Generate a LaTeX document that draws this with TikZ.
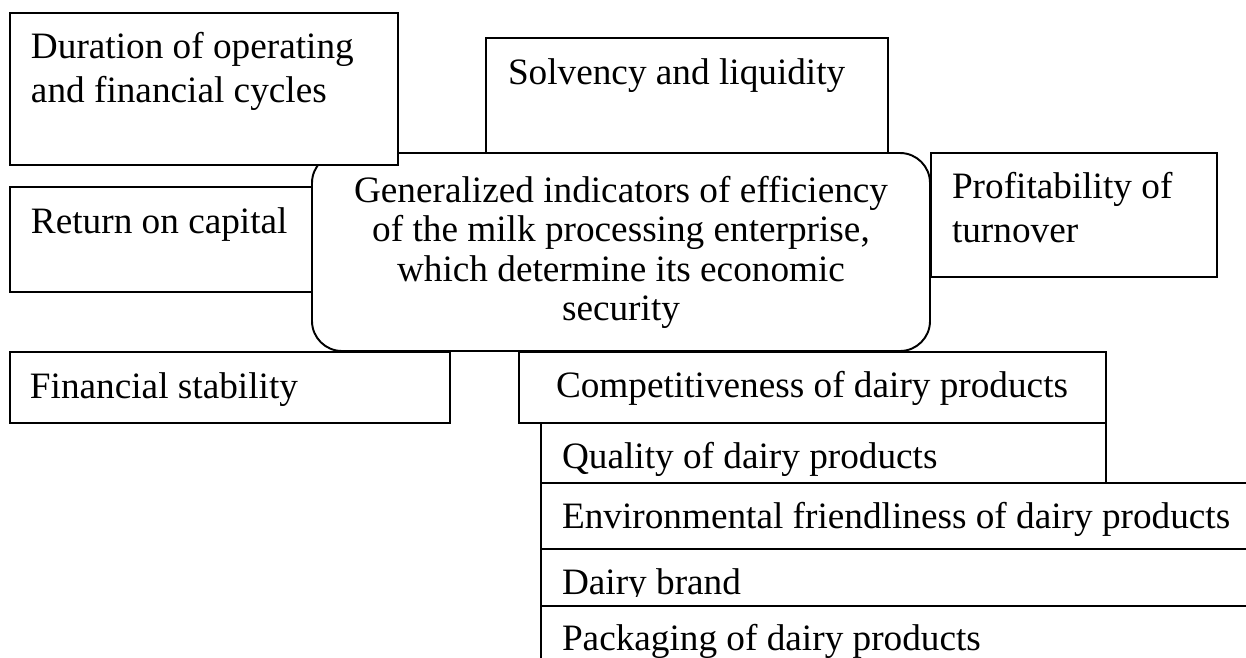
\documentclass[tikz,border=0pt]{standalone}
\usepackage{fontspec}
\setmainfont{Liberation Serif}
\usetikzlibrary{fit}
\begin{document}
\begin{tikzpicture}[x=0.02cm,y=-0.02cm,
  box/.style={draw=black, fill=white, line width=1.1pt, inner sep=0pt, outer sep=0pt},
  centre/.style={box, rounded corners=0.6cm},
  txt/.style={inner sep=0pt, outer sep=0pt, anchor=base west, font=\fontsize{21.2pt}{25pt}\selectfont},
  ctxt/.style={txt, anchor=base}]
\useasboundingbox (0,0) rectangle (1246,657);
\clip (0,0) rectangle (1246,657);
% central
\node[centre, fit={(312,153) (930,351)}] (c) {};
\node[ctxt] (c1) at (621,202) {Generalized indicators of efficiency};
\node[ctxt] (c2) at (621,241) {of the milk processing enterprise,};
\node[ctxt] (c3) at (621,281) {which determine its economic};
\node[ctxt] (c4) at (621,320) {security};
% duration
\node[box, fit={(10,13) (398,165)}] (dur) {};
\node[txt] (dur1) at (31,58) {Duration of operating};
\node[txt] (dur2) at (31,102) {and financial cycles};
% solvency
\node[box, fit={(486,38) (888,153)}] (sol) {};
\node[txt] (sol1) at (508,84) {Solvency and liquidity};
% return on capital
\node[box, fit={(10,187) (312,292)}] (ret) {};
\node[txt] (ret1) at (31,233) {Return on capital};
% profitability
\node[box, fit={(931,153) (1217,277)}] (pro) {};
\node[txt] (pro1) at (952,198) {Profitability of};
\node[txt] (pro2) at (952,242) {turnover};
% financial stability
\node[box, fit={(10,352) (450,423)}] (fin) {};
\node[txt] (fin1) at (30,398) {Financial stability};
% competitiveness
\node[box, fit={(519,352) (1106,423)}] (com) {};
\node[txt] (com1) at (556,397) {Competitiveness of dairy products};
% quality
\node[box, fit={(541,423) (1106,483)}] (qua) {};
\node[txt] (qua1) at (562,468) {Quality of dairy products};
% environmental
\node[box, fit={(541,483) (1300,549)}] (env) {};
\node[txt] (env1) at (562,528) {Environmental friendliness of dairy products};
% brand
\node[box, fit={(541,549) (1300,606)}] (bra) {};
\begin{scope}
\clip (545,552) rectangle (1246,596);
\node[txt] (bra1) at (562,594) {Dairy brand};
\end{scope}
% packaging
\node[box, fit={(541,606) (1300,720)}] (pac) {};
\node[txt] (pac1) at (562,650) {Packaging of dairy products};
\end{tikzpicture}
\end{document}
